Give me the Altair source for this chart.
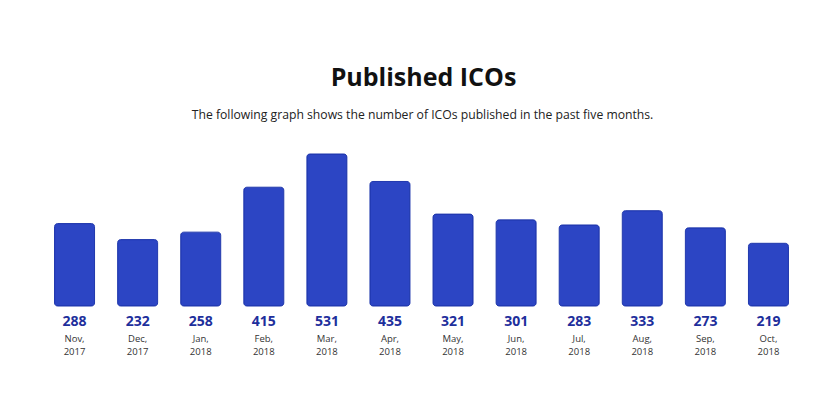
import altair as alt
import pandas as pd

months = ["Nov,", "Dec,", "Jan,", "Feb,", "Mar,", "Apr,", "May,", "Jun,", "Jul,", "Aug,", "Sep,", "Oct,"]
years = ["2017", "2017", "2018", "2018", "2018", "2018", "2018", "2018", "2018", "2018", "2018", "2018"]
counts = [288, 232, 258, 415, 531, 435, 321, 301, 283, 333, 273, 219]
title_text = "Published ICOs"
subtitle_text = "The following graph shows the number of ICOs published in the past five months."

df = pd.DataFrame({
    "key": [m + y for m, y in zip(months, years)],
    "month": months,
    "year": years,
    "count": counts,
})

W, H = 757, 152
xs = alt.X("key:N", sort=None, axis=None,
           scale=alt.Scale(paddingInner=0.366, paddingOuter=0.183))

base = alt.Chart(df)

bars = base.mark_bar(color="#2c45c4", stroke="#1f37ad", strokeWidth=1, cornerRadius=3).encode(
    x=xs,
    y=alt.Y("count:Q", axis=None, scale=alt.Scale(domain=[0, 531], nice=False, zero=True)),
)

vals = base.mark_text(font="Open Sans", fontWeight="bold", fontSize=14, color="#1e2f9c",
                      baseline="middle").encode(
    x=xs, y=alt.value(H + 16), text="count:Q")

mon = base.mark_text(font="Open Sans", fontSize=9.5, color="#333333", baseline="middle").encode(
    x=xs, y=alt.value(H + 33), text="month:N")

yr = base.mark_text(font="Open Sans", fontSize=9.5, color="#333333", baseline="middle").encode(
    x=xs, y=alt.value(H + 46), text="year:N")

tdf = pd.DataFrame({"t": [title_text]})
sdf = pd.DataFrame({"t": [subtitle_text]})

title = alt.Chart(tdf).mark_text(font="Open Sans", fontWeight="bold", fontSize=25, color="#111111",
                                 baseline="middle").encode(
    x=alt.value(W / 2 + 2), y=alt.value(-76), text="t:N")

sub = alt.Chart(sdf).mark_text(font="Open Sans", fontSize=12.2, color="#222222",
                               baseline="middle").encode(
    x=alt.value(W / 2 + 1), y=alt.value(-39), text="t:N")

chart = alt.layer(bars, vals, mon, yr, title, sub).properties(
    width=W, height=H,
    autosize=alt.AutoSizeParams(type="none"),
    padding={"left": 35, "top": 146, "right": 20, "bottom": 82},
).configure(background="white").configure_view(strokeWidth=0, stroke="transparent")

chart.save("out.html", embed_options={"renderer": "svg", "actions": False})
